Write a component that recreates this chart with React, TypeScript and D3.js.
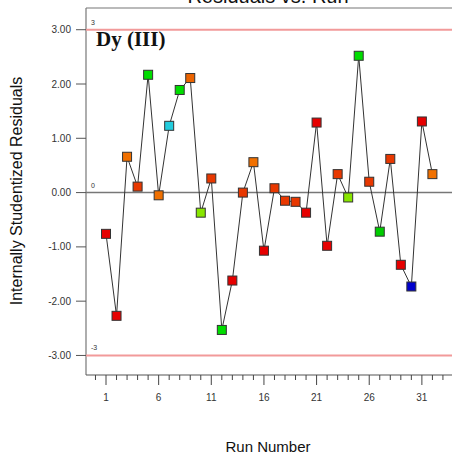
import React from "react";
import * as d3 from "d3";

const runs = d3.range(1, 33);
const residuals = [-0.76, -2.27, 0.66, 0.11, 2.17, -0.05, 1.23, 1.89, 2.11, -0.37, 0.26, -2.53, -1.62, 0.0, 0.56, -1.07, 0.08, -0.15, -0.17, -0.37, 1.29, -0.98, 0.34, -0.09, 2.52, 0.2, -0.72, 0.62, -1.33, -1.73, 1.31, 0.34];
const pointColors = ["#e60000", "#e60000", "#f07000", "#e83800", "#00dd00", "#f07000", "#22ccdd", "#00dd00", "#ec6400", "#88e600", "#e83800", "#00dd00", "#e60000", "#e83800", "#f07000", "#e60000", "#e83800", "#e83800", "#e83800", "#e60000", "#e60000", "#e60000", "#e83800", "#88e600", "#00dd00", "#e83800", "#00cc00", "#e83800", "#e60000", "#0000cc", "#e60000", "#f07000"];
const yTicks = [3, 2, 1, 0, -1, -2, -3];
const xMajor = [1, 6, 11, 16, 21, 26, 31];
const limits = [3, -3];

export default function App() {
  const W = 452, H = 454;
  const left = 86, right = 480, top = 8, bottom = 375;
  const x = d3.scaleLinear().domain([-0.9, 36.52]).range([left, right]);
  const y = d3.scaleLinear().domain([3.4, -3.36]).range([top, bottom]);
  const line = d3.line<number>().x((_, i) => x(runs[i])).y((d) => y(d));
  const minor = d3.range(0, 37);
  const font = "Arial, 'Liberation Sans', sans-serif";
  return (
    <svg width={W} height={H} style={{ position: "absolute", left: 0, top: 0, background: "#fff" }}>
      <text x={268} y={3} textAnchor="middle" fontFamily={font} fontSize={20} fill="#111">Residuals vs. Run</text>
      {/* frame */}
      <line x1={left} x2={right} y1={top} y2={top} stroke="#777" strokeWidth={1.2} />
      <line x1={left} x2={left} y1={top} y2={bottom} stroke="#777" strokeWidth={1.2} />
      <line x1={left} x2={right} y1={bottom} y2={bottom} stroke="#555" strokeWidth={1.2} />
      {/* limits */}
      {limits.map((v) => (
        <g key={v}>
          <line x1={left} x2={right} y1={y(v)} y2={y(v)} stroke="#f29a9a" strokeWidth={2} />
          <text x={91} y={y(v) - 5} fontFamily={font} fontSize={7} fill="#333">{v}</text>
        </g>
      ))}
      <line x1={left} x2={right} y1={y(0)} y2={y(0)} stroke="#777" strokeWidth={1.5} />
      <text x={91} y={y(0) - 5} fontFamily={font} fontSize={7} fill="#333">0</text>
      {/* y ticks */}
      {yTicks.map((v) => (
        <g key={v}>
          <line x1={76} x2={left} y1={y(v)} y2={y(v)} stroke="#555" strokeWidth={1} />
          <text x={71} y={y(v) + 3.5} textAnchor="end" fontFamily={font} fontSize={10} fill="#333">{v.toFixed(2)}</text>
        </g>
      ))}
      {/* x ticks */}
      {minor.map((r) => (
        <line key={r} x1={x(r)} x2={x(r)} y1={bottom} y2={bottom + (xMajor.includes(r) ? 10 : 5)} stroke="#444" strokeWidth={1} />
      ))}
      {xMajor.map((r) => (
        <text key={r} x={x(r)} y={401} textAnchor="middle" fontFamily={font} fontSize={10} fill="#333">{r}</text>
      ))}
      <text x={96} y={46} fontFamily="'Liberation Serif', 'Times New Roman', serif" fontWeight="bold" fontSize={21} fill="#111">Dy (III)</text>
      <path d={line(residuals) || ""} fill="none" stroke="#333" strokeWidth={1} />
      {residuals.map((v, i) => (
        <rect key={i} x={x(runs[i]) - 4.5} y={y(v) - 4.5} width={9} height={9} fill={pointColors[i]} stroke="#333" strokeWidth={1} />
      ))}
      <text x={268} y={452} textAnchor="middle" fontFamily={font} fontSize={15} fill="#111">Run Number</text>
      <text transform={`translate(22,191) rotate(-90)`} textAnchor="middle" fontFamily={font} fontSize={16} fill="#111">Internally Studentized Residuals</text>
    </svg>
  );
}
